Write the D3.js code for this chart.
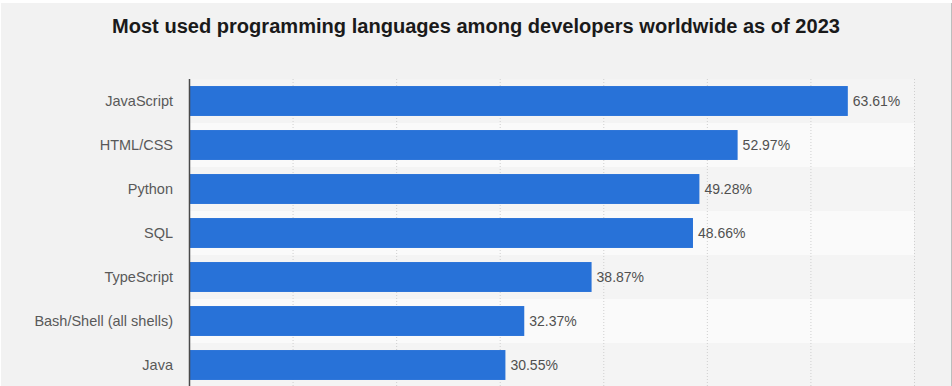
<!DOCTYPE html>
<html>
<head>
<meta charset="utf-8">
<script src="https://cdn.jsdelivr.net/npm/d3@7"></script>
<style>
  html, body { margin: 0; padding: 0; background: #f2f2f2; }
  svg { display: block; }
</style>
</head>
<body>
<div id="chart"></div>
<script>
// Survey data: share of respondents using each language
const languages = ["JavaScript", "HTML/CSS", "Python", "SQL", "TypeScript", "Bash/Shell (all shells)", "Java"];
const shares = [63.61, 52.97, 49.28, 48.66, 38.87, 32.37, 30.55];
const xTicks = [0, 10, 20, 30, 40, 50, 60, 70];
const title = "Most used programming languages among developers worldwide as of 2023";

const width = 952, height = 386;
const margin = { top: 79, left: 189, right: 38 };
const rowStep = 44;

const svg = d3.select("#chart").append("svg")
  .attr("width", width).attr("height", height);

// frame
svg.append("rect").attr("x", 0).attr("y", 0).attr("width", width).attr("height", height).attr("fill", "#ffffff");
svg.append("rect").attr("x", 1).attr("y", 3).attr("width", width - 2).attr("height", height - 3).attr("fill", "#f2f2f2");
svg.append("line").attr("x1", width - 0.5).attr("x2", width - 0.5).attr("y1", 3).attr("y2", height)
  .attr("stroke", "#bdbdbd");

const x = d3.scaleLinear().domain([0, 70]).range([margin.left, width - margin.right]);
const y = d3.scaleBand().domain(languages)
  .range([margin.top, margin.top + rowStep * languages.length])
  .paddingInner(0.32).paddingOuter(0.16);

// alternating row bands
svg.append("g").selectAll("rect").data(languages).join("rect")
  .attr("x", x(0))
  .attr("y", d => y(d) - y.step() * y.paddingInner() / 2)
  .attr("width", x(70) - x(0))
  .attr("height", y.step())
  .attr("fill", (d, i) => i % 2 ? "#fafafa" : "#f4f4f4");

// vertical dotted grid
svg.append("g").selectAll("line").data(xTicks.slice(1)).join("line")
  .attr("x1", d => x(d) + 0.5).attr("x2", d => x(d) + 0.5)
  .attr("y1", margin.top).attr("y2", height)
  .attr("stroke", "#cfcfcf").attr("stroke-width", 1).attr("stroke-dasharray", "1,2");

// bars
svg.append("g").selectAll("rect").data(languages).join("rect")
  .attr("x", x(0))
  .attr("y", d => y(d))
  .attr("width", (d, i) => x(shares[i]) - x(0))
  .attr("height", y.bandwidth())
  .attr("fill", "#2872d8");

// value labels
svg.append("g").selectAll("text").data(languages).join("text")
  .attr("x", (d, i) => x(shares[i]) + 5)
  .attr("y", d => y(d) + y.bandwidth() / 2)
  .attr("dy", "0.35em")
  .attr("font-family", "Liberation Sans, Arial, sans-serif")
  .attr("font-size", 14)
  .attr("fill", "#505050")
  .text((d, i) => d3.format(".2f")(shares[i]) + "%");

// category axis
const yAxis = d3.axisLeft(y).tickSize(0).tickPadding(16);
const ga = svg.append("g").attr("transform", `translate(${margin.left},0)`).call(yAxis);
ga.select(".domain").remove();
ga.selectAll("text")
  .attr("font-family", "Liberation Sans, Arial, sans-serif")
  .attr("font-size", 14.5)
  .attr("fill", "#595959");
svg.append("line")
  .attr("x1", x(0) + 0.5).attr("x2", x(0) + 0.5)
  .attr("y1", margin.top).attr("y2", height)
  .attr("stroke", "#4a4a4a").attr("stroke-width", 1.5);

// title
svg.append("text")
  .attr("x", width / 2).attr("y", 33)
  .attr("text-anchor", "middle")
  .attr("font-family", "Liberation Sans, Arial, sans-serif")
  .attr("font-weight", "bold")
  .attr("font-size", 20)
  .attr("fill", "#1a1a1a")
  .attr("textLength", 728)
  .attr("lengthAdjust", "spacingAndGlyphs")
  .text(title);
</script>
</body>
</html>
